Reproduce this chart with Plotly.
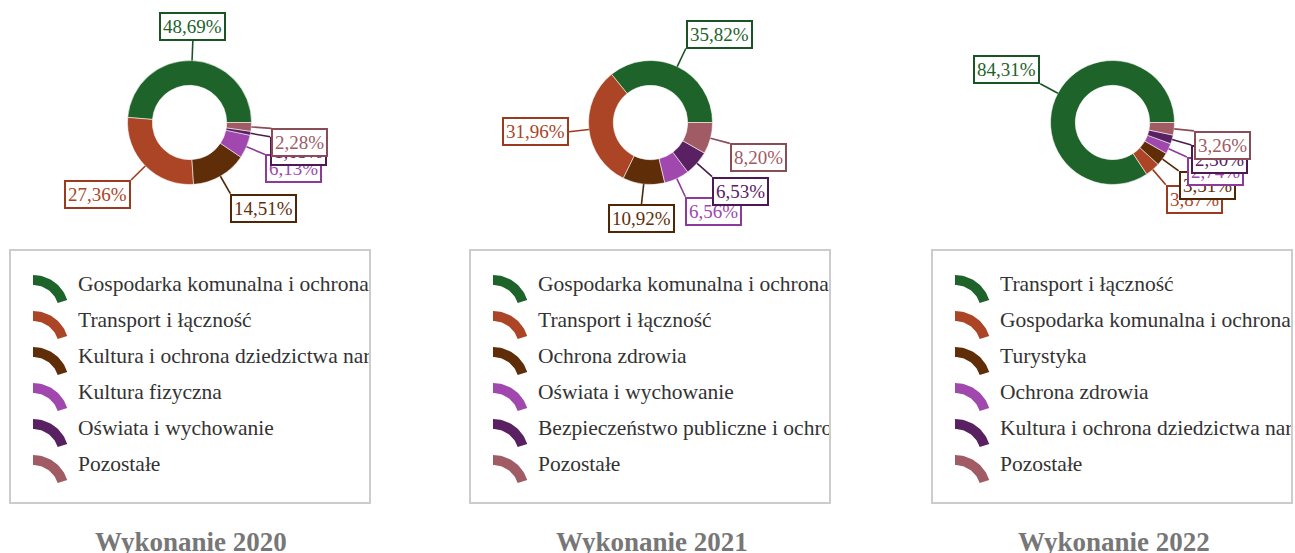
import math
import plotly.graph_objects as go

# ---- data -------------------------------------------------------------
years = ["2020", "2021", "2022"]

cats_2020 = [
    "Gospodarka komunalna i ochrona środowiska",
    "Transport i łączność",
    "Kultura i ochrona dziedzictwa narodowego",
    "Kultura fizyczna",
    "Oświata i wychowanie",
    "Pozostałe",
]
vals_2020 = [48.69, 27.36, 14.51, 6.13, 1.03, 2.28]

cats_2021 = [
    "Gospodarka komunalna i ochrona środowiska",
    "Transport i łączność",
    "Ochrona zdrowia",
    "Oświata i wychowanie",
    "Bezpieczeństwo publiczne i ochrona przeciwpożarowa",
    "Pozostałe",
]
vals_2021 = [35.82, 31.96, 10.92, 6.56, 6.53, 8.20]

cats_2022 = [
    "Transport i łączność",
    "Gospodarka komunalna i ochrona środowiska",
    "Turystyka",
    "Ochrona zdrowia",
    "Kultura i ochrona dziedzictwa narodowego",
    "Pozostałe",
]
vals_2022 = [84.31, 3.87, 3.51, 2.74, 2.30, 3.26]

# ---- styling ----------------------------------------------------------
slice_colors = ["#1e6329", "#ab4526", "#5f2e08", "#a048ad", "#5a2162", "#a05b64"]
border_colors = ["#1b5424", "#9c3a1f", "#4f2606", "#8d3b9a", "#4b1a53", "#8b4c57"]

W, H = 1295, 553
SERIF = "Liberation Serif"

centers_x = [189.5, 650.5, 1112.5]
center_y = 122.5
radius = 62
hole = 0.6
line_reach = 20

legend_left = [10, 470, 932]
legend_w = 360
legend_top, legend_bottom = 250, 503
legend_row0, legend_step = 286, 36

panels = [
    (years[0], cats_2020, vals_2020),
    (years[1], cats_2021, vals_2021),
    (years[2], cats_2022, vals_2022),
]

fig = go.Figure()
shapes = []
annotations = []


def fmt(v):
    return f"{v:.2f}".replace(".", ",") + "%"


def arc_icon(x0, yc, n=24):
    """Quarter-ring legend glyph, returned as a closed polygon in pixels."""
    cx, cy = x0 + 1, yc + 25
    ro, ri = 36, 26
    a0, a1 = 90, 18
    outer = [(cx + ro * math.cos(math.radians(a0 + (a1 - a0) * i / n)),
              cy - ro * math.sin(math.radians(a0 + (a1 - a0) * i / n))) for i in range(n + 1)]
    inner = [(cx + ri * math.cos(math.radians(a1 + (a0 - a1) * i / n)),
              cy - ri * math.sin(math.radians(a1 + (a0 - a1) * i / n))) for i in range(n + 1)]
    pts = outer + inner + [outer[0]]
    return [p[0] for p in pts], [p[1] for p in pts]


# full-figure pixel axis used for lines, label boxes and titles
fig.add_trace(go.Scatter(x=[0], y=[0], mode="markers", marker=dict(opacity=0),
                         hoverinfo="skip", showlegend=False, xaxis="x", yaxis="y"))

layout_axes = dict(
    xaxis=dict(domain=[0, 1], range=[0, W], visible=False, fixedrange=True),
    yaxis=dict(domain=[0, 1], range=[H, 0], visible=False, fixedrange=True),
)

for p, (year, cats, vals) in enumerate(panels):
    cx = centers_x[p]
    total = sum(vals)

    # donut: first slice starts at 3 o'clock, the rest follow counterclockwise
    first_span = 360.0 * vals[0] / total
    fig.add_trace(go.Pie(
        labels=cats, values=vals, sort=False, direction="counterclockwise",
        rotation=90 - first_span, hole=hole, textinfo="none", showlegend=False,
        marker=dict(colors=slice_colors, line=dict(color="rgba(255,255,255,0.55)", width=1)),
        domain=dict(x=[(cx - radius) / W, (cx + radius) / W],
                    y=[1 - (center_y + radius) / H, 1 - (center_y - radius) / H]),
        hoverinfo="label+percent",
    ))

    # leader lines and value boxes
    cum = 0.0
    for i, v in enumerate(vals):
        mid = math.radians(360.0 * (cum + v / 2) / total)
        cum += v
        c, s = math.cos(mid), math.sin(mid)
        px, py = cx + radius * c, center_y - radius * s
        ex, ey = cx + (radius + line_reach) * c, center_y - (radius + line_reach) * s
        shapes.append(dict(type="line", xref="x", yref="y", x0=px, y0=py, x1=ex, y1=ey,
                           line=dict(color=border_colors[i], width=1.6), layer="above"))
        if abs(c) < 0.2:
            xa = "center"
        else:
            xa = "left" if c > 0 else "right"
        if s > 0.15:
            ya = "bottom"
        elif s < -0.15 or (s < -0.05 and c > 0):
            ya = "top"
        else:
            ya = "middle"
        annotations.append(dict(
            x=ex, y=ey, xref="x", yref="y", xanchor=xa, yanchor=ya, showarrow=False,
            text=fmt(v), font=dict(family=SERIF, size=19, color=slice_colors[i]),
            bgcolor="white", bordercolor=border_colors[i], borderwidth=2, borderpad=2,
        ))

    # legend panel (own clipped subplot so long names are cut at the frame)
    k = p + 2
    x0 = legend_left[p]
    x1 = x0 + legend_w - 1
    layout_axes[f"xaxis{k}"] = dict(domain=[x0 / W, x1 / W], range=[x0, x1], visible=False,
                                    fixedrange=True, anchor=f"y{k}")
    layout_axes[f"yaxis{k}"] = dict(domain=[1 - legend_bottom / H, 1 - legend_top / H],
                                    range=[legend_bottom, legend_top], visible=False,
                                    fixedrange=True, anchor=f"x{k}")
    shapes.append(dict(type="rect", xref="x", yref="y", x0=x0, x1=x0 + legend_w,
                       y0=legend_top, y1=legend_bottom,
                       line=dict(color="#cccccc", width=2), layer="below"))
    for i, name in enumerate(cats):
        yc = legend_row0 + i * legend_step
        ix, iy = arc_icon(x0 + 22, yc)
        fig.add_trace(go.Scatter(x=ix, y=iy, mode="lines", fill="toself",
                                 fillcolor=slice_colors[i], line=dict(width=0),
                                 hoverinfo="skip", showlegend=False,
                                 xaxis=f"x{k}", yaxis=f"y{k}"))
        fig.add_trace(go.Scatter(x=[x0 + 68], y=[yc], mode="text", text=[name],
                                 textposition="middle right", cliponaxis=True,
                                 textfont=dict(family=SERIF, size=21.5, color="#333333"),
                                 hoverinfo="skip", showlegend=False,
                                 xaxis=f"x{k}", yaxis=f"y{k}"))

    # panel title
    annotations.append(dict(
        x=cx + 1, y=542, xref="x", yref="y", xanchor="center", yanchor="middle",
        showarrow=False, text=f"Wykonanie {year}",
        font=dict(family=SERIF, size=27, color="#777777", weight="bold"),
    ))

fig.update_layout(
    width=W, height=H, margin=dict(l=0, r=0, t=0, b=0),
    paper_bgcolor="white", plot_bgcolor="rgba(0,0,0,0)",
    showlegend=False, hovermode=False,
    shapes=shapes, annotations=annotations,
    **layout_axes,
)

fig.write_html("out.html")
